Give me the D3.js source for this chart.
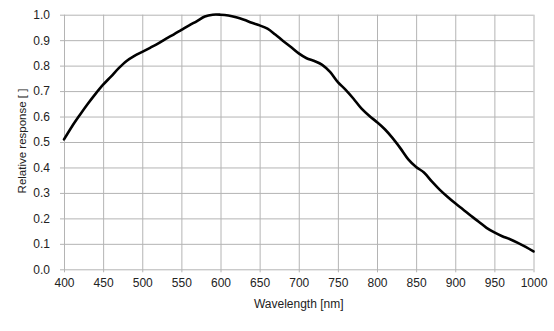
<!DOCTYPE html>
<html>
<head>
<meta charset="utf-8">
<script src="https://cdn.jsdelivr.net/npm/d3@7"></script>
<style>
  html, body { margin: 0; padding: 0; background: #fff; }
  svg { display: block; }
  text { font-family: "Liberation Sans", Arial, sans-serif; fill: #222; }
</style>
</head>
<body>
<svg id="chart" width="554" height="331"></svg>
<script>
// Spectral response curve: wavelength (nm) and relative response
const wavelengths = [400,410,420,430,440,450,460,470,480,490,500,510,520,530,540,550,560,570,580,590,600,
  610,620,630,640,650,660,670,680,690,700,710,720,730,740,750,760,770,780,790,800,
  810,820,830,840,850,860,870,880,890,900,910,920,930,940,950,960,970,980,990,1000];
const response = [0.51,0.56,0.605,0.648,0.688,0.725,0.757,0.79,0.818,0.838,0.854,0.87,0.886,0.905,0.922,0.94,0.958,0.975,0.993,1.0,1.0,
  0.997,0.99,0.98,0.968,0.958,0.945,0.922,0.897,0.873,0.848,0.829,0.818,0.803,0.775,0.735,0.705,0.67,0.632,0.603,0.578,
  0.55,0.515,0.475,0.432,0.402,0.38,0.345,0.313,0.285,0.259,0.235,0.21,0.187,0.163,0.145,0.13,0.118,0.104,0.088,0.07];
const xTicks = [400,450,500,550,600,650,700,750,800,850,900,950,1000];
const yTicks = [0,0.1,0.2,0.3,0.4,0.5,0.6,0.7,0.8,0.9,1.0];

const plot = { left: 64, right: 533.5, top: 14.7, bottom: 269.3 };
const svg = d3.select("#chart");

const x = d3.scaleLinear().domain([400, 1000]).range([plot.left, plot.right]);
const y = d3.scaleLinear().domain([0, 1]).range([plot.bottom, plot.top]);

const gridColor = "#b4b4b4";

// Vertical grid with short ticks below the plot
const xAxis = svg.append("g")
  .attr("transform", `translate(0,${plot.bottom})`)
  .call(d3.axisBottom(x).tickValues(xTicks).tickFormat(d3.format("d"))
    .tickSizeInner(-(plot.bottom - plot.top)).tickSizeOuter(0).tickPadding(9));
xAxis.select(".domain").remove();
xAxis.selectAll(".tick line").attr("stroke", gridColor).attr("y2", -(plot.bottom - plot.top)).attr("y1", 3);
xAxis.selectAll(".tick text").attr("font-size", "12px").attr("fill", "#222");

// Horizontal grid with short ticks left of the plot
const yAxis = svg.append("g")
  .attr("transform", `translate(${plot.left},0)`)
  .call(d3.axisLeft(y).tickValues(yTicks).tickFormat(d3.format(".1f"))
    .tickSizeInner(-(plot.right - plot.left)).tickSizeOuter(0).tickPadding(14));
yAxis.select(".domain").remove();
yAxis.selectAll(".tick line").attr("stroke", gridColor).attr("x1", -4).attr("x2", plot.right - plot.left);
yAxis.selectAll(".tick text").attr("font-size", "12px").attr("fill", "#222");

// Response curve
const line = d3.line()
  .x((d, i) => x(wavelengths[i]))
  .y(d => y(d))
  .curve(d3.curveCatmullRom.alpha(0.5));

svg.append("path")
  .datum(response)
  .attr("d", line)
  .attr("fill", "none")
  .attr("stroke", "#000")
  .attr("stroke-width", 2.6)
  .attr("stroke-linejoin", "round")
  .attr("stroke-linecap", "round");

// Axis titles
svg.append("text")
  .attr("x", (plot.left + plot.right) / 2)
  .attr("y", 308)
  .attr("text-anchor", "middle")
  .attr("font-size", "12px")
  .text("Wavelength [nm]");

svg.append("text")
  .attr("transform", `translate(26,141) rotate(-90)`)
  .attr("text-anchor", "middle")
  .attr("font-size", "11.5px")
  .text("Relative response [ ]");
</script>
</body>
</html>
